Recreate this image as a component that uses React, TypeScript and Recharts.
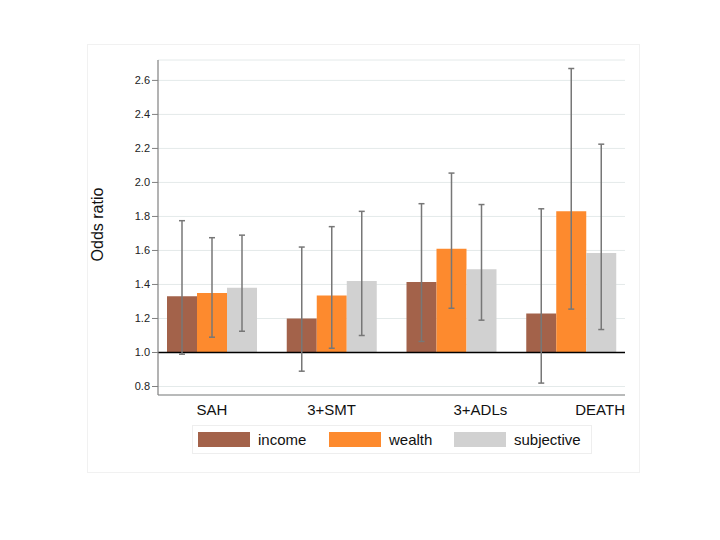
import React from 'react';
import { BarChart, Bar, XAxis, YAxis, CartesianGrid, ReferenceLine, ErrorBar } from 'recharts';

const categories = ['SAH', '3+SMT', '3+ADLs', 'DEATH'];
const incomeOR = [1.33, 1.2, 1.415, 1.23];
const incomeLo = [0.99, 0.89, 1.065, 0.82];
const incomeHi = [1.775, 1.62, 1.875, 1.845];
const wealthOR = [1.35, 1.335, 1.61, 1.83];
const wealthLo = [1.09, 1.025, 1.26, 1.255];
const wealthHi = [1.675, 1.74, 2.055, 2.67];
const subjOR = [1.38, 1.42, 1.49, 1.585];
const subjLo = [1.125, 1.1, 1.19, 1.135];
const subjHi = [1.69, 1.83, 1.87, 2.225];
const yTicks = [0.8, 1.0, 1.2, 1.4, 1.6, 1.8, 2.0, 2.2, 2.4, 2.6];
const seriesNames = ['income', 'wealth', 'subjective'];
const BASE = 1.0;

const COLORS = { income: '#a3624a', wealth: '#fd8a2e', subjective: '#d1d1d1' };
const ERR = '#777777';
const FONT = '"Liberation Sans", Arial, Helvetica, sans-serif';

const data = categories.map((c, i) => ({
  cat: c,
  income: incomeOR[i],
  incomeRange: [BASE, incomeOR[i]],
  incomeErr: [incomeOR[i] - incomeLo[i], incomeHi[i] - incomeOR[i]],
  wealth: wealthOR[i],
  wealthRange: [BASE, wealthOR[i]],
  wealthErr: [wealthOR[i] - wealthLo[i], wealthHi[i] - wealthOR[i]],
  subjective: subjOR[i],
  subjectiveRange: [BASE, subjOR[i]],
  subjectiveErr: [subjOR[i] - subjLo[i], subjHi[i] - subjOR[i]],
}));

const labelShift = [0, 0, 29, 29];

const XTick = (props: any) => {
  const { x, y, payload, index } = props;
  return (
    <text x={x + (labelShift[index] || 0)} y={y + 12} textAnchor="middle" fontSize={15} fill="#111" fontFamily={FONT}>
      {payload.value}
    </text>
  );
};

const YLabel = (props: any) => {
  const vb = props.viewBox;
  if (!vb) return null;
  const cx = vb.x - 11;
  const cy = vb.y + vb.height / 2 - 3;
  return (
    <text x={cx} y={cy} transform={`rotate(-90, ${cx}, ${cy})`} textAnchor="middle" dominantBaseline="central" fontSize={16} fill="#111" fontFamily={FONT}>
      Odds ratio
    </text>
  );
};

export default function App() {
  return (
    <div style={{ position: 'relative', width: 704, height: 524, fontFamily: FONT }}>
      <div style={{ position: 'absolute', left: 79, top: 36, width: 551, height: 427, border: '1px solid #f1f1f1' }} />
      <div style={{ position: 'absolute', left: 0, top: 0 }}>
        <BarChart
          width={704}
          height={524}
          data={data}
          margin={{ top: 52, right: 87, bottom: 107, left: 100 }}
          barCategoryGap="12.5%"
          barGap={0}
        >
          <CartesianGrid xAxisId="a" vertical={false} stroke="#e4eaea" strokeWidth={1} />
          <XAxis
            xAxisId="a"
            dataKey="cat"
            padding={{ left: -6, right: -6 }}
            tickLine={false}
            axisLine={{ stroke: '#808080', strokeWidth: 1.2 }}
            height={30}
            tick={<XTick />}
            interval={0}
          />
          <XAxis xAxisId="b" dataKey="cat" padding={{ left: -6, right: -6 }} hide />
          <YAxis
            domain={[0.75, 2.72]}
            ticks={yTicks}
            allowDataOverflow
            width={50}
            tickSize={6}
            tickFormatter={(v: number) => v.toFixed(1)}
            tick={{ fontSize: 11, fill: '#222', fontFamily: FONT }}
            axisLine={{ stroke: '#808080', strokeWidth: 1.2 }}
            tickLine={{ stroke: '#808080' }}
            label={<YLabel />}
          />
          {seriesNames.map((s) => (
            <Bar key={s} xAxisId="a" dataKey={`${s}Range`} barSize={30} fill={(COLORS as any)[s]} isAnimationActive={false} />
          ))}
          <ReferenceLine xAxisId="a" y={1} stroke="#000" strokeWidth={1.3} />
          {seriesNames.map((s) => (
            <Bar key={`e-${s}`} xAxisId="b" dataKey={s} barSize={30} fill="none" fillOpacity={0} isAnimationActive={false}>
              <ErrorBar dataKey={`${s}Err`} direction="y" width={3} stroke={ERR} strokeWidth={1.5} isAnimationActive={false} />
            </Bar>
          ))}
        </BarChart>
      </div>
      <div
        style={{
          position: 'absolute',
          left: 184,
          top: 417,
          width: 398,
          height: 27,
          border: '1px solid #eeeeee',
          boxSizing: 'content-box',
        }}
      >
        {seriesNames.map((s, i) => {
          const swatchLeft = [5, 136, 261][i];
          return (
            <React.Fragment key={s}>
              <div style={{ position: 'absolute', left: swatchLeft, top: 6, width: 52, height: 15, background: (COLORS as any)[s] }} />
              <div style={{ position: 'absolute', left: swatchLeft + 60, top: 4, fontSize: 15, lineHeight: '19px', color: '#111', whiteSpace: 'nowrap' }}>{s}</div>
            </React.Fragment>
          );
        })}
      </div>
    </div>
  );
}
